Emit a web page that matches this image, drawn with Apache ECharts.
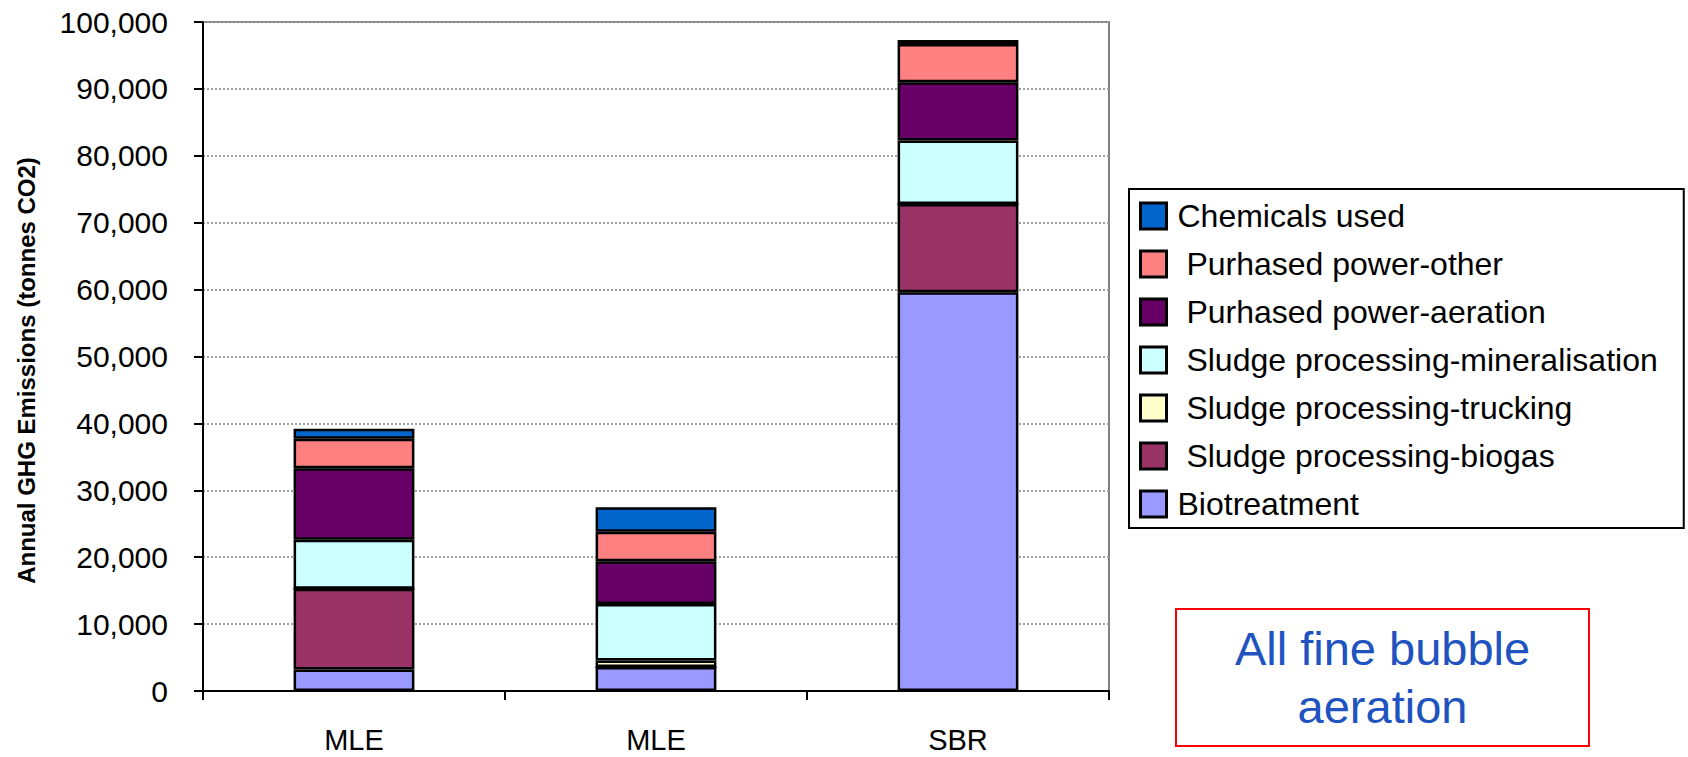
<!DOCTYPE html>
<html>
<head>
<meta charset="utf-8">
<script src="https://cdn.jsdelivr.net/npm/echarts@6/dist/echarts.min.js"></script>
<style>
  html, body { margin: 0; padding: 0; background: #ffffff; }
  #chart { width: 1688px; height: 757px; }
</style>
</head>
<body>
<div id="chart"></div>
<script>
// Plant configurations along the x axis
const categories = ['MLE', 'MLE', 'SBR'];

// Emission sources, stacked bottom to top (tonnes CO2 per year)
const biotreatment      = [3200, 3600, 59600];
const sludgeBiogas      = [12100, 0, 13200];
const sludgeTrucking    = [0, 950, 0];
const sludgeMineral     = [7300, 8450, 9500];
const powerAeration     = [10700, 6400, 8700];
const powerOther        = [4400, 4400, 5700];
const chemicalsUsed     = [1500, 3650, 600];

const seriesNames = [
  'Biotreatment',
  ' Sludge processing-biogas',
  ' Sludge processing-trucking',
  ' Sludge processing-mineralisation',
  ' Purhased power-aeration',
  ' Purhased power-other',
  'Chemicals used'
];
const seriesValues = [
  biotreatment, sludgeBiogas, sludgeTrucking, sludgeMineral,
  powerAeration, powerOther, chemicalsUsed
];
const seriesColors = [
  '#9999FF', '#993366', '#FFFFCC', '#CCFFFF', '#660066', '#FF8080', '#0066CC'
];

const yTicks = { min: 0, max: 100000, interval: 10000 };
const yTitle = 'Annual GHG Emissions (tonnes CO2)';
const noteLines = ['All fine bubble', 'aeration'];

const FONT = "'Liberation Sans', Arial, sans-serif";

const chart = echarts.init(document.getElementById('chart'), null, { renderer: 'svg' });

const series = seriesNames.map((name, i) => ({
  name: name,
  type: 'bar',
  stack: 'total',
  barWidth: '40%',
  data: seriesValues[i],
  itemStyle: { color: seriesColors[i], borderColor: '#000000', borderWidth: 2.5 },
  emphasis: { disabled: true }
}));

chart.setOption({
  backgroundColor: '#ffffff',
  animation: false,
  grid: {
    left: 203, top: 22, width: 906, height: 669,
    show: true, borderColor: '#808080', borderWidth: 2, backgroundColor: 'transparent'
  },
  xAxis: {
    type: 'category',
    data: categories,
    axisLine: { lineStyle: { color: '#000000', width: 2 } },
    axisTick: { show: true, inside: false, length: 9, lineStyle: { color: '#000000', width: 2 } },
    axisLabel: { color: '#000000', fontFamily: FONT, fontSize: 29, lineHeight: 29, margin: 34 },
    splitLine: { show: false }
  },
  yAxis: {
    type: 'value',
    min: yTicks.min, max: yTicks.max, interval: yTicks.interval,
    name: yTitle,
    nameLocation: 'middle',
    nameGap: 165,
    nameRotate: 90,
    nameTextStyle: {
      color: '#000000', fontFamily: FONT, fontSize: 24, fontWeight: 'bold',
      padding: [0, 28, 0, 0]
    },
    axisLine: { show: true, lineStyle: { color: '#000000', width: 2 } },
    axisTick: { show: true, inside: false, length: 9, lineStyle: { color: '#000000', width: 2 } },
    axisLabel: {
      color: '#000000', fontFamily: FONT, fontSize: 30, margin: 35,
      formatter: v => v.toLocaleString('en-US')
    },
    splitLine: { show: true, lineStyle: { color: '#a0a0a0', width: 2, type: [2, 2] } }
  },
  legend: {
    orient: 'vertical',
    left: 1129, top: 189,
    padding: [11, 26, 8, 10],
    icon: 'rect',
    itemWidth: 26, itemHeight: 26, itemGap: 16,
    itemStyle: { borderColor: '#000000', borderWidth: 3 },
    borderColor: '#000000', borderWidth: 2,
    backgroundColor: '#ffffff',
    selectedMode: false,
    data: seriesNames.slice().reverse(),
    textStyle: {
      color: '#000000', fontFamily: FONT, fontSize: 32, lineHeight: 32,
      padding: [0, 0, 0, 6]
    }
  },
  graphic: [{
    type: 'group',
    left: 1175, top: 608,
    children: [{
      type: 'rect',
      shape: { x: 0, y: 0, width: 413, height: 137 },
      style: { fill: '#ffffff', stroke: '#ff0000', lineWidth: 2 }
    }, {
      type: 'text',
      x: 206.5, y: 68.5,
      style: {
        text: noteLines.join('\n'),
        fill: '#2052C0',
        fontFamily: FONT, fontSize: 47, lineHeight: 58,
        align: 'center', verticalAlign: 'middle'
      }
    }]
  }],
  series: series
});
</script>
</body>
</html>
